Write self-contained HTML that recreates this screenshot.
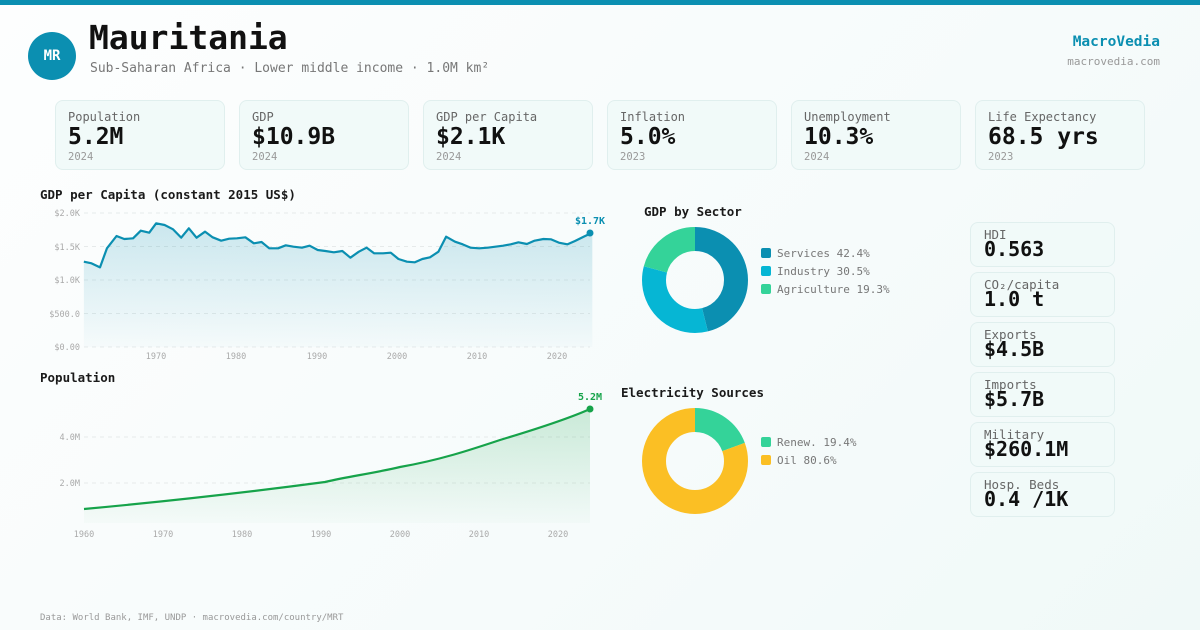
<!DOCTYPE html>
<html><head><meta charset="utf-8"><style>
*{margin:0;padding:0;box-sizing:border-box}
body{width:1200px;height:630px;overflow:hidden;background:linear-gradient(135deg,#fdfefe 0%,#f6fbfb 60%,#f0f9f8 100%);font-family:"DejaVu Sans Mono","Liberation Mono",monospace;position:relative;color:#1a1a1a}
.abs{position:absolute}
.card{position:absolute;background:#f1faf9;border:1px solid #e0efee;border-radius:8px}
.kl{font-size:12px;color:#666}
.kv{font-size:23px;font-weight:bold;color:#111;line-height:26px}
.ky{font-size:10.5px;color:#999}
.sl{font-size:12.5px;color:#666;line-height:13px}
.sv{font-size:20px;font-weight:bold;color:#111;line-height:22px}
</style></head><body>
<div class="abs" style="left:0;top:0;width:1200px;height:5px;background:#0b8fb1"></div>
<div class="abs" style="left:28px;top:32px;width:48px;height:48px;border-radius:50%;background:#0b8fb1;color:#fff;font-weight:bold;font-size:14px;text-align:center;line-height:48px">MR</div>
<div class="abs" style="left:89px;top:18px;font-size:33px;font-weight:bold;color:#111">Mauritania</div>
<div class="abs" style="left:90px;top:61px;font-size:13px;color:#777">Sub-Saharan Africa · Lower middle income · 1.0M km²</div>
<div class="abs" style="right:40px;top:34px;font-size:14.5px;font-weight:bold;color:#0b8fb1">MacroVedia</div>
<div class="abs" style="right:40px;top:55px;font-size:11px;color:#999">macrovedia.com</div>

<div class="card" style="left:55px;top:100px;width:170px;height:70px"><div class="abs kl" style="left:12px;top:9px">Population</div><div class="abs kv" style="left:12px;top:23px">5.2M</div><div class="abs ky" style="left:12px;top:50px">2024</div></div>
<div class="card" style="left:239px;top:100px;width:170px;height:70px"><div class="abs kl" style="left:12px;top:9px">GDP</div><div class="abs kv" style="left:12px;top:23px">$10.9B</div><div class="abs ky" style="left:12px;top:50px">2024</div></div>
<div class="card" style="left:423px;top:100px;width:170px;height:70px"><div class="abs kl" style="left:12px;top:9px">GDP per Capita</div><div class="abs kv" style="left:12px;top:23px">$2.1K</div><div class="abs ky" style="left:12px;top:50px">2024</div></div>
<div class="card" style="left:607px;top:100px;width:170px;height:70px"><div class="abs kl" style="left:12px;top:9px">Inflation</div><div class="abs kv" style="left:12px;top:23px">5.0%</div><div class="abs ky" style="left:12px;top:50px">2023</div></div>
<div class="card" style="left:791px;top:100px;width:170px;height:70px"><div class="abs kl" style="left:12px;top:9px">Unemployment</div><div class="abs kv" style="left:12px;top:23px">10.3%</div><div class="abs ky" style="left:12px;top:50px">2024</div></div>
<div class="card" style="left:975px;top:100px;width:170px;height:70px"><div class="abs kl" style="left:12px;top:9px">Life Expectancy</div><div class="abs kv" style="left:12px;top:23px">68.5 yrs</div><div class="abs ky" style="left:12px;top:50px">2023</div></div>

<div class="abs" style="left:40px;top:187px;font-size:12.5px;font-weight:bold">GDP per Capita (constant 2015 US$)</div>
<div class="abs" style="left:40px;top:370px;font-size:12.5px;font-weight:bold">Population</div>
<div class="abs" style="left:644px;top:204px;font-size:12.5px;font-weight:bold">GDP by Sector</div>
<div class="abs" style="left:621px;top:385px;font-size:12.5px;font-weight:bold">Electricity Sources</div>

<svg class="abs" style="left:0;top:0" width="1200" height="630">
<defs>
<linearGradient id="g1" x1="0" y1="0" x2="0" y2="1"><stop offset="0" stop-color="#0b8fb1" stop-opacity="0.2"/><stop offset="1" stop-color="#0b8fb1" stop-opacity="0.02"/></linearGradient>
<linearGradient id="g2" x1="0" y1="0" x2="0" y2="1"><stop offset="0" stop-color="#16a34a" stop-opacity="0.2"/><stop offset="1" stop-color="#16a34a" stop-opacity="0.02"/></linearGradient>
</defs>
<g stroke="#e6eaea" stroke-dasharray="4,4" stroke-width="1">
<line x1="84" y1="213" x2="590" y2="213"/><line x1="84" y1="246.5" x2="590" y2="246.5"/><line x1="84" y1="280" x2="590" y2="280"/><line x1="84" y1="313.5" x2="590" y2="313.5"/><line x1="84" y1="347" x2="590" y2="347"/>
<line x1="84" y1="437" x2="590" y2="437"/><line x1="84" y1="483" x2="590" y2="483"/>
</g>
<g font-size="8.5" fill="#aaa" text-anchor="end" font-family="DejaVu Sans Mono,monospace">
<text x="80" y="216">$2.0K</text><text x="80" y="250">$1.5K</text><text x="80" y="283">$1.0K</text><text x="80" y="317">$500.0</text><text x="80" y="350">$0.00</text>
<text x="80" y="440">4.0M</text><text x="80" y="486">2.0M</text>
</g>
<g font-size="8.5" fill="#aaa" text-anchor="middle" font-family="DejaVu Sans Mono,monospace">
<text x="156" y="359">1970</text><text x="236" y="359">1980</text><text x="317" y="359">1990</text><text x="397" y="359">2000</text><text x="477" y="359">2010</text><text x="557" y="359">2020</text>
<text x="84" y="537">1960</text><text x="163" y="537">1970</text><text x="242" y="537">1980</text><text x="321" y="537">1990</text><text x="400" y="537">2000</text><text x="479" y="537">2010</text><text x="558" y="537">2020</text>
</g>
<g transform="translate(30,180) scale(0.384615,0.333333)">
<path fill="url(#g1)" d="M140,245 L160,250 182,262 200,205 225,168 245,177 268,175 288,152 310,158 328,130 350,135 372,148 393,173 413,145 433,173 455,155 475,172 497,182 518,176 538,175 560,172 582,190 602,186 622,205 645,205 665,196 685,200 707,203 727,197 748,210 768,213 790,217 812,213 833,233 855,215 875,203 895,220 918,220 938,218 958,237 980,245 1000,247 1020,237 1040,232 1062,215 1082,170 1105,185 1125,193 1145,203 1168,205 1190,203 1210,200 1230,197 1250,193 1270,187 1292,192 1312,182 1335,177 1355,178 1375,188 1397,193 1417,183 1440,170 1462,158 L1462,501 L140,501 Z"/>
<path fill="none" stroke="#0b8fb1" stroke-width="2.2" vector-effect="non-scaling-stroke" stroke-linejoin="round" d="M140,245 L160,250 182,262 200,205 225,168 245,177 268,175 288,152 310,158 328,130 350,135 372,148 393,173 413,145 433,173 455,155 475,172 497,182 518,176 538,175 560,172 582,190 602,186 622,205 645,205 665,196 685,200 707,203 727,197 748,210 768,213 790,217 812,213 833,233 855,215 875,203 895,220 918,220 938,218 958,237 980,245 1000,247 1020,237 1040,232 1062,215 1082,170 1105,185 1125,193 1145,203 1168,205 1190,203 1210,200 1230,197 1250,193 1270,187 1292,192 1312,182 1335,177 1355,178 1375,188 1397,193 1417,183 1440,170 1462,158"/>
</g>
<circle cx="590" cy="233" r="3.5" fill="#0b8fb1"/>
<text x="590" y="224" font-size="10" font-weight="bold" fill="#0b8fb1" text-anchor="middle" font-family="DejaVu Sans Mono,monospace">$1.7K</text>
<path fill="url(#g2)" d="M84,509 C160,502 250,492 325,482 C350,476 370,474 400,467 C440,460 470,450 500,440 C540,428 570,418 590,409 L590,523 L84,523 Z"/>
<path fill="none" stroke="#16a34a" stroke-width="2.2" d="M84,509 C160,502 250,492 325,482 C350,476 370,474 400,467 C440,460 470,450 500,440 C540,428 570,418 590,409"/>
<circle cx="590" cy="409" r="3.5" fill="#16a34a"/>
<text x="590" y="400" font-size="10" font-weight="bold" fill="#16a34a" text-anchor="middle" font-family="DejaVu Sans Mono,monospace">5.2M</text>
<g transform="translate(695,280) rotate(-90)" fill="none" stroke-width="24">
<circle r="41" stroke="#0b8fb1" stroke-dasharray="118.5 400"/>
<circle r="41" stroke="#06b6d4" stroke-dasharray="85.2 400" stroke-dashoffset="-118.5"/>
<circle r="41" stroke="#34d399" stroke-dasharray="53.9 400" stroke-dashoffset="-203.7"/>
</g>
<g transform="translate(695,461) rotate(-90)" fill="none" stroke-width="24">
<circle r="41" stroke="#34d399" stroke-dasharray="50 400"/>
<circle r="41" stroke="#fbbf24" stroke-dasharray="207.6 400" stroke-dashoffset="-50"/>
</g>
<g font-size="11" fill="#777" font-family="DejaVu Sans Mono,monospace">
<rect x="761" y="248" width="10" height="10" rx="2" fill="#0b8fb1"/><text x="777" y="257">Services 42.4%</text>
<rect x="761" y="266" width="10" height="10" rx="2" fill="#06b6d4"/><text x="777" y="275">Industry 30.5%</text>
<rect x="761" y="284" width="10" height="10" rx="2" fill="#34d399"/><text x="777" y="293">Agriculture 19.3%</text>
<rect x="761" y="437" width="10" height="10" rx="2" fill="#34d399"/><text x="777" y="446">Renew. 19.4%</text>
<rect x="761" y="455" width="10" height="10" rx="2" fill="#fbbf24"/><text x="777" y="464">Oil 80.6%</text>
</g>
</svg>

<div class="card" style="left:970px;top:222px;width:145px;height:45px"><div class="abs sl" style="left:13px;top:5px">HDI</div><div class="abs sv" style="left:13px;top:15px">0.563</div></div>
<div class="card" style="left:970px;top:272px;width:145px;height:45px"><div class="abs sl" style="left:13px;top:5px">CO₂/capita</div><div class="abs sv" style="left:13px;top:15px">1.0 t</div></div>
<div class="card" style="left:970px;top:322px;width:145px;height:45px"><div class="abs sl" style="left:13px;top:5px">Exports</div><div class="abs sv" style="left:13px;top:15px">$4.5B</div></div>
<div class="card" style="left:970px;top:372px;width:145px;height:45px"><div class="abs sl" style="left:13px;top:5px">Imports</div><div class="abs sv" style="left:13px;top:15px">$5.7B</div></div>
<div class="card" style="left:970px;top:422px;width:145px;height:45px"><div class="abs sl" style="left:13px;top:5px">Military</div><div class="abs sv" style="left:13px;top:15px">$260.1M</div></div>
<div class="card" style="left:970px;top:472px;width:145px;height:45px"><div class="abs sl" style="left:13px;top:5px">Hosp. Beds</div><div class="abs sv" style="left:13px;top:15px">0.4 /1K</div></div>

<div class="abs" style="left:40px;top:613px;font-size:9px;color:#999">Data: World Bank, IMF, UNDP · macrovedia.com/country/MRT</div>
</body></html>
